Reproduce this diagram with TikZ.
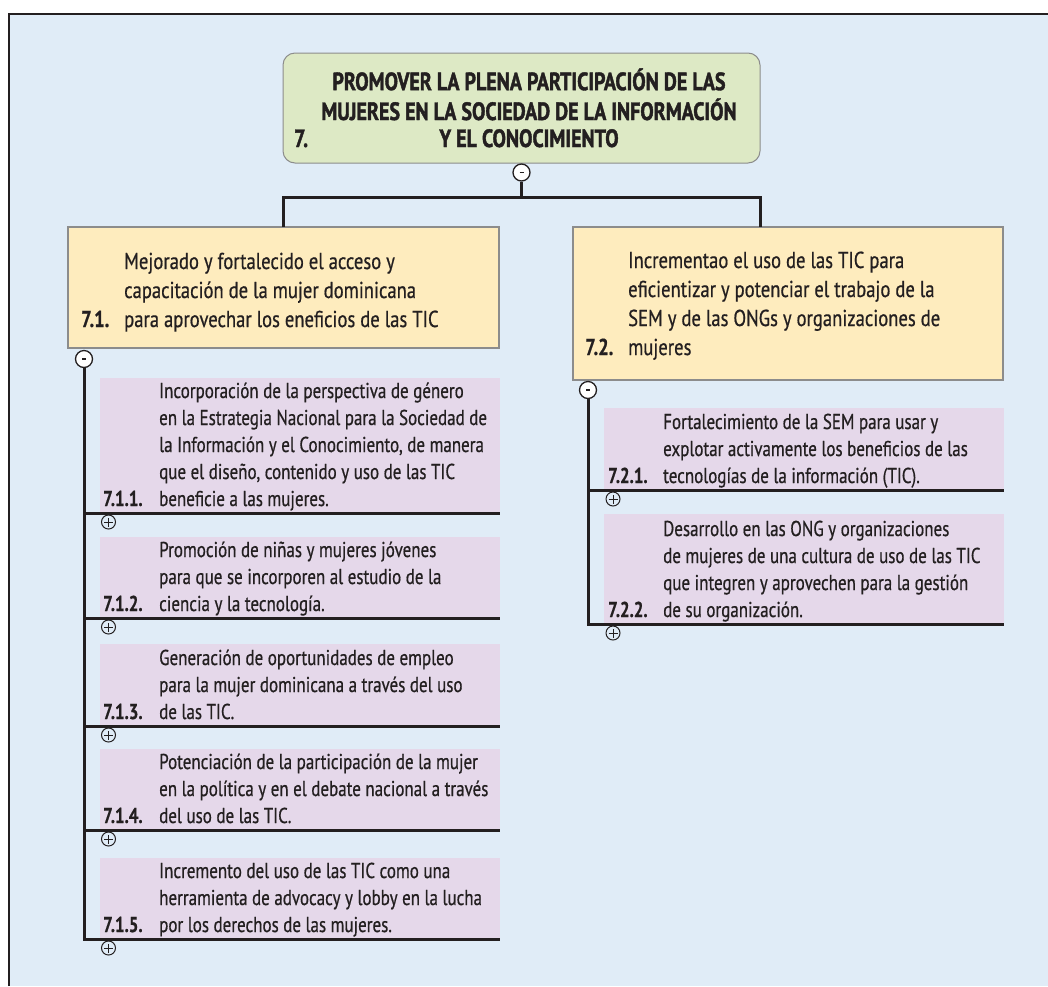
\documentclass[tikz,border=0pt]{standalone}
\usepackage{fontspec}
\setmainfont{PT Sans}[FakeStretch=0.79, FakeBold=0.6]
\newfontfamily\levelfont{PT Sans}[FakeStretch=0.81, FakeBold=0.6]
\newfontfamily\titlefont{PT Sans}[FakeStretch=0.8, FakeBold=1.6]
\definecolor{bgblue}{RGB}{224,236,247}
\definecolor{titlegreen}{RGB}{221,233,197}
\definecolor{lvlyellow}{RGB}{254,236,190}
\definecolor{subpink}{RGB}{229,216,234}
\definecolor{ink}{RGB}{35,31,32}
\definecolor{boxgray}{RGB}{140,140,140}
\tikzset{
  titlebox/.style={draw=boxgray, line width=1pt, fill=titlegreen, rounded corners=12pt, inner sep=0, outer sep=0},
  lvlbox/.style={draw=boxgray, line width=1.2pt, fill=lvlyellow, inner sep=0, outer sep=0},
  subbox/.style={fill=subpink, draw=none, inner sep=0, outer sep=0},
  conn/.style={draw=ink, line width=3pt},
  minusc/.style={circle, draw=ink, fill=white, line width=1.3pt, minimum size=17pt, inner sep=0,
    path picture={\draw[ink, line width=1.8pt] ([xshift=-2pt]path picture bounding box.center) -- ([xshift=2pt]path picture bounding box.center);}},
  plusc/.style={circle, draw=ink, line width=1pt, minimum size=14pt, inner sep=0,
    path picture={\draw[ink, line width=1pt] ([xshift=-4.5pt]path picture bounding box.center) -- ([xshift=4.5pt]path picture bounding box.center) ([yshift=-4.5pt]path picture bounding box.center) -- ([yshift=4.5pt]path picture bounding box.center);}},
  ttl/.style={inner sep=0, text=ink, font=\titlefont\bfseries\fontsize{25}{27}\selectfont},
  txt1/.style={inner sep=0, text=ink, font=\levelfont\fontsize{23}{29}\selectfont},
  num1/.style={inner sep=0, text=ink, font=\levelfont\bfseries\fontsize{23}{29}\selectfont},
  txt2/.style={inner sep=0, text=ink, font=\fontsize{21.5}{27}\selectfont},
  num2/.style={inner sep=0, text=ink, font=\bfseries\fontsize{21.5}{27}\selectfont},
}
\begin{document}
\begin{tikzpicture}[x=1pt,y=-1pt]
\useasboundingbox (0,0) rectangle (1048,986);
\fill[white] (0,0) rectangle (1048,986);
\fill[bgblue] (8,13) rectangle (1048,986);
\draw[ink, line width=1.6pt] (8.8,986) -- (8.8,13.8) -- (1048,13.8);

% title
\node[titlebox, minimum width=477pt, minimum height=110pt] (title) at (521.5,108) {};
\node[ttl, anchor=base] (title-t) at (529,147) {\begin{tabular}[b]{@{}c@{}}PROMOVER LA PLENA PARTICIPACIÓN DE LAS\\MUJERES EN LA SOCIEDAD DE LA INFORMACIÓN\\Y EL CONOCIMIENTO\end{tabular}};
\node[ttl, anchor=base west] (title-n) at (294,147) {7.};
\node[minusc] (tm) at (521.5,172.5) {};

% level 1
\node[lvlbox, minimum width=431pt, minimum height=121pt] (la) at (283.5,287.5) {};
\node[txt1, anchor=base west] (la-t) at (124,327) {\begin{tabular}[b]{@{}l@{}}Mejorado y fortalecido el acceso y\\capacitación de la mujer dominicana\\para aprovechar los eneficios de las TIC\end{tabular}};
\node[num1, anchor=base west] (la-n) at (81,327) {7.1.};
\node[lvlbox, minimum width=430pt, minimum height=153pt] (lb) at (788,303.5) {};
\node[txt1, anchor=base west] (lb-t) at (628,355) {\begin{tabular}[b]{@{}l@{}}Incrementao el uso de las TIC para\\eficientizar y potenciar el trabajo de la\\SEM y de las ONGs y organizaciones de\\mujeres\end{tabular}};
\node[num1, anchor=base west] (lb-n) at (585,355) {7.2.};

% connectors level 0 -> 1
\coordinate (barM) at (521.5,197);
\coordinate (barL) at (283.5,197);
\coordinate (barR) at (760,197);
\draw[conn] (tm.south) -- (barM);
\draw[conn] (la.north) -- (barL) -- (barR) -- (barR |- lb.north);

\node[minusc] (ma) at (84,359) {};
\node[minusc] (mb) at (588,390) {};

% left sub boxes
\node[subbox, minimum width=400pt, minimum height=135pt] (s1) at (299.5,445.5) {};
\node[subbox, minimum width=400pt, minimum height=81pt] (s2) at (299.5,577.5) {};
\node[subbox, minimum width=400pt, minimum height=82pt] (s3) at (299.5,685) {};
\node[subbox, minimum width=400pt, minimum height=81pt] (s4) at (299.5,789.5) {};
\node[subbox, minimum width=400pt, minimum height=81pt] (s5) at (299.5,898.5) {};

\node[txt2, anchor=base west] (s1-t) at (159,506) {\begin{tabular}[b]{@{}l@{}}Incorporación de la perspectiva de género\\en la Estrategia Nacional para la Sociedad de\\la Información y el Conocimiento, de manera\\que el diseño, contenido y uso de las TIC\\beneficie a las mujeres.\end{tabular}};
\node[num2, anchor=base west] (s1-n) at (103,506) {7.1.1.};
\node[txt2, anchor=base west] (s2-t) at (159,611) {\begin{tabular}[b]{@{}l@{}}Promoción de niñas y mujeres jóvenes\\para que se incorporen al estudio de la\\ciencia y la tecnología.\end{tabular}};
\node[num2, anchor=base west] (s2-n) at (103,611) {7.1.2.};
\node[txt2, anchor=base west] (s3-t) at (159,719) {\begin{tabular}[b]{@{}l@{}}Generación de oportunidades de empleo\\para la mujer dominicana a través del uso\\de las TIC.\end{tabular}};
\node[num2, anchor=base west] (s3-n) at (103,719) {7.1.3.};
\node[txt2, anchor=base west] (s4-t) at (159,823) {\begin{tabular}[b]{@{}l@{}}Potenciación de la participación de la mujer\\en la política y en el debate nacional a través\\del uso de las TIC.\end{tabular}};
\node[num2, anchor=base west] (s4-n) at (103,823) {7.1.4.};
\node[txt2, anchor=base west] (s5-t) at (159,932) {\begin{tabular}[b]{@{}l@{}}Incremento del uso de las TIC como una\\herramienta de advocacy y lobby en la lucha\\por los derechos de las mujeres.\end{tabular}};
\node[num2, anchor=base west] (s5-n) at (103,932) {7.1.5.};

% right sub boxes
\node[subbox, minimum width=400pt, minimum height=82pt] (r1) at (804,449) {};
\node[subbox, minimum width=400pt, minimum height=110pt] (r2) at (804,569) {};
\node[txt2, anchor=base west] (r1-t) at (663,483) {\begin{tabular}[b]{@{}l@{}}Fortalecimiento de la SEM para usar y\\explotar activamente los beneficios de las\\tecnologías de la información (TIC).\end{tabular}};
\node[num2, anchor=base west] (r1-n) at (608,483) {7.2.1.};
\node[txt2, anchor=base west] (r2-t) at (663,617) {\begin{tabular}[b]{@{}l@{}}Desarrollo en las ONG y organizaciones\\de mujeres de una cultura de uso de las TIC\\que integren y aprovechen para la gestión\\de su organización.\end{tabular}};
\node[num2, anchor=base west] (r2-n) at (608,617) {7.2.2.};

% left tree connectors
\draw[conn] (ma.south) -- (ma.south |- s5.south) -- (s5.south east);
\draw[conn] (ma.south |- s1.south) -- (s1.south east);
\draw[conn] (ma.south |- s2.south) -- (s2.south east);
\draw[conn] (ma.south |- s3.south) -- (s3.south east);
\draw[conn] (ma.south |- s4.south) -- (s4.south east);

% right tree connectors
\draw[conn] (mb.south) -- (mb.south |- r2.south) -- (r2.south east);
\draw[conn] (mb.south |- r1.south) -- (r1.south east);

% plus circles
\node[plusc] (p1) at ([xshift=9pt,yshift=-9pt]s1.south west) {};
\node[plusc] (p2) at ([xshift=9pt,yshift=-9pt]s2.south west) {};
\node[plusc] (p3) at ([xshift=9pt,yshift=-9pt]s3.south west) {};
\node[plusc] (p4) at ([xshift=9pt,yshift=-9pt]s4.south west) {};
\node[plusc] (p5) at ([xshift=9pt,yshift=-9pt]s5.south west) {};
\node[plusc] (q1) at ([xshift=9pt,yshift=-9pt]r1.south west) {};
\node[plusc] (q2) at ([xshift=9pt,yshift=-9pt]r2.south west) {};
\end{tikzpicture}
\end{document}
